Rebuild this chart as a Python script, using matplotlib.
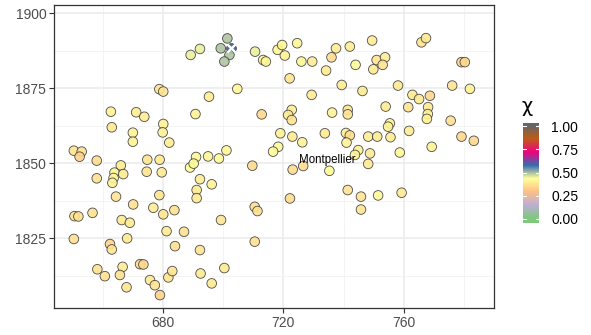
import numpy as np
import matplotlib
matplotlib.use("Agg")
import matplotlib.pyplot as plt
from matplotlib.colors import LinearSegmentedColormap

plt.rcParams['font.family'] = ['Liberation Sans', 'DejaVu Sans']

# sampled sites: longitude-like x, latitude-like y, chi value
x = [689.2, 692.3, 678.8, 680.1, 662.7, 671.1, 673.8, 663.0, 670.0, 670.0,
     680.1, 679.9, 682.1, 690.8, 650.4, 653.0, 652.3, 658.0, 674.8, 678.9,
     691.0, 695.0, 698.6, 701.1, 710.6, 713.3, 714.2, 718.1, 719.6, 720.5,
     724.6, 726.0, 729.6, 737.5, 736.0, 734.2, 722.1, 704.7, 695.3, 729.4,
     739.4, 712.8, 722.8, 721.6, 722.8, 736.2, 719.0, 723.0, 726.3, 733.8,
     740.8, 742.1, 741.0, 718.3, 716.6, 709.7, 723.1, 726.6, 735.3, 691.2,
     691.2, 692.3, 696.2, 689.0, 690.2, 742.1, 749.5, 744.0, 749.9, 751.0,
     753.8, 753.0, 765.9, 767.4, 779.2, 780.3, 746.3, 758.1, 762.9, 765.1,
     768.7, 776.1, 782.0, 741.4, 741.4, 754.0, 761.5, 768.1, 768.0, 767.7,
     775.6, 755.4, 754.8, 748.2, 751.2, 755.6, 761.8, 779.2, 783.3, 769.3,
     744.9, 743.8, 748.8, 748.2, 758.7, 741.4, 745.8, 751.5, 759.3, 745.8,
     722.2, 710.5, 711.4, 699.3, 710.5, 692.3, 692.5, 696.2, 700.4, 666.0,
     663.9, 666.8, 663.6, 663.2, 674.6, 679.6, 658.0, 650.6, 651.9, 656.6,
     664.4, 670.1, 666.3, 669.0, 676.8, 678.8, 680.1, 683.8, 650.4, 662.4,
     663.0, 668.1, 681.2, 687.0, 684.0, 658.2, 660.7, 666.6, 665.7, 667.9,
     672.4, 673.5, 675.7, 677.3, 679.0, 681.8, 683.1]
y = [1886.1, 1888.1, 1874.7, 1873.9, 1867.2, 1867.0, 1865.5, 1862.0, 1860.2, 1857.2,
     1863.1, 1860.3, 1856.9, 1866.4, 1854.2, 1853.9, 1852.2, 1850.9, 1851.2, 1851.2,
     1852.1, 1852.3, 1851.6, 1854.3, 1887.2, 1884.4, 1883.9, 1887.8, 1889.4, 1885.9,
     1890.0, 1883.9, 1883.9, 1888.3, 1885.3, 1880.9, 1878.3, 1874.8, 1872.2, 1872.8,
     1876.1, 1866.3, 1867.8, 1866.1, 1864.4, 1866.9, 1860.0, 1858.9, 1857.0, 1860.0,
     1860.1, 1859.3, 1856.9, 1855.5, 1853.9, 1849.2, 1847.9, 1849.1, 1847.5, 1841.1,
     1838.4, 1844.7, 1843.0, 1848.6, 1849.9, 1888.9, 1890.9, 1882.8, 1881.3, 1884.4,
     1885.3, 1882.8, 1890.3, 1891.7, 1883.7, 1883.7, 1874.1, 1875.9, 1872.8, 1871.4,
     1872.5, 1875.9, 1874.8, 1867.8, 1866.3, 1868.9, 1868.7, 1868.7, 1866.4, 1864.8,
     1864.2, 1863.3, 1862.2, 1858.9, 1858.9, 1858.7, 1860.8, 1858.9, 1857.5, 1855.5,
     1854.4, 1852.8, 1853.3, 1849.8, 1853.6, 1841.1, 1838.9, 1839.3, 1840.2, 1834.6,
     1838.3, 1835.5, 1834.1, 1831.1, 1823.9, 1821.1, 1813.3, 1810.0, 1815.1, 1849.3,
     1846.9, 1846.4, 1845.1, 1843.5, 1847.2, 1847.0, 1845.0, 1832.4, 1832.3, 1833.5,
     1838.9, 1836.3, 1831.1, 1830.2, 1835.2, 1839.4, 1833.0, 1834.4, 1824.8, 1823.1,
     1821.3, 1825.0, 1827.4, 1827.2, 1822.4, 1814.7, 1812.4, 1815.5, 1812.8, 1808.7,
     1816.4, 1816.3, 1811.1, 1809.4, 1806.1, 1812.0, 1814.1]
chi = [0.445, 0.445, 0.37, 0.37, 0.40, 0.39, 0.39, 0.38, 0.40, 0.40,
       0.40, 0.40, 0.39, 0.40, 0.37, 0.36, 0.33, 0.35, 0.37, 0.38,
       0.41, 0.41, 0.42, 0.41, 0.445, 0.41, 0.41, 0.41, 0.41, 0.40,
       0.41, 0.41, 0.39, 0.39, 0.35, 0.38, 0.37, 0.41, 0.39, 0.39,
       0.39, 0.34, 0.39, 0.38, 0.37, 0.40, 0.40, 0.38, 0.40, 0.38,
       0.39, 0.35, 0.40, 0.42, 0.42, 0.35, 0.35, 0.35, 0.42, 0.38,
       0.38, 0.39, 0.40, 0.43, 0.43, 0.39, 0.39, 0.43, 0.38, 0.37,
       0.39, 0.37, 0.37, 0.38, 0.33, 0.34, 0.38, 0.38, 0.38, 0.38,
       0.34, 0.37, 0.40, 0.37, 0.37, 0.38, 0.37, 0.38, 0.40, 0.40,
       0.36, 0.40, 0.40, 0.39, 0.38, 0.39, 0.39, 0.34, 0.34, 0.40,
       0.40, 0.40, 0.38, 0.38, 0.41, 0.37, 0.37, 0.42, 0.38, 0.37,
       0.35, 0.36, 0.36, 0.37, 0.36, 0.37, 0.38, 0.38, 0.38, 0.39,
       0.41, 0.38, 0.42, 0.40, 0.37, 0.38, 0.36, 0.36, 0.36, 0.36,
       0.37, 0.36, 0.38, 0.38, 0.39, 0.37, 0.37, 0.36, 0.36, 0.33,
       0.37, 0.38, 0.38, 0.36, 0.36, 0.36, 0.36, 0.39, 0.36, 0.37,
       0.35, 0.34, 0.38, 0.37, 0.33, 0.37, 0.37]

# the grey group near the marked site
grey_x = [701.4, 699.2, 702.1, 700.4]
grey_y = [1891.6, 1888.3, 1886.1, 1883.9]
grey_chi = [0.488, 0.488, 0.488, 0.488]

# marked site
mark_x, mark_y, mark_chi = 702.6, 1888.4, 0.56

city_name = "Montpellier"
city_x, city_y = 734.5, 1851.1

xticks = [680, 720, 760]
yticks = [1825, 1850, 1875, 1900]
cbar_ticks = [0.0, 0.25, 0.5, 0.75, 1.0]

accent = ['#7FC97F', '#BEAED4', '#FDC086', '#FFFF99',
          '#386CB0', '#F0027F', '#BF5B17', '#666666']
cmap = LinearSegmentedColormap.from_list('accent_grad', accent)

fig = plt.figure(figsize=(5.91, 3.35), dpi=100)
W, H = 591, 335
ax = fig.add_axes([54 / W, (H - 308) / H, 440 / W, 303.5 / H])

pt_size = 48
ax.scatter(x, y, c=chi, cmap=cmap, vmin=0, vmax=1, s=pt_size,
           edgecolors='#3a3a3a', linewidths=0.6, alpha=0.9, zorder=3)
ax.scatter([mark_x], [mark_y], c=[mark_chi], cmap=cmap, vmin=0, vmax=1,
           s=pt_size, edgecolors='#3a3a3a', linewidths=0.6, zorder=3)
ax.scatter(grey_x, grey_y, c=grey_chi, cmap=cmap, vmin=0, vmax=1, s=pt_size,
           edgecolors='#3a3a3a', linewidths=0.6, alpha=0.9, zorder=3)
ax.scatter([mark_x], [mark_y], marker='x', color='white', s=34,
           linewidths=1.7, zorder=5)
ax.text(city_x, city_y, city_name, fontsize=8.3, ha='center', va='center',
        color='black', zorder=6)

ax.set_xlim(643.8, 790.0)
ax.set_ylim(1801.8, 1902.9)
ax.set_xticks(xticks)
ax.set_yticks(yticks)
ax.set_xticks([660, 700, 740, 780], minor=True)
ax.set_yticks([1812.5, 1837.5, 1862.5, 1887.5], minor=True)
ax.grid(True, which='major', color='#EBEBEB', linewidth=1.1, zorder=0)
ax.grid(True, which='minor', color='#F2F2F2', linewidth=0.6, zorder=0)
ax.set_axisbelow(True)
ax.tick_params(which='major', length=3.5, width=0.8, color='#333333',
               labelsize=10, labelcolor='#4D4D4D', pad=2)
ax.tick_params(which='minor', length=0)
for sp in ax.spines.values():
    sp.set_color('#333333')
    sp.set_linewidth(0.9)

# colour bar
cax = fig.add_axes([523 / W, (H - 223.5) / H, 16 / W, 100.5 / H])
lo, hi = -0.05, 1.035
grad = np.linspace(lo, hi, 300).reshape(-1, 1)
cax.imshow(grad, cmap=cmap, vmin=0, vmax=1, aspect='auto', origin='lower',
           extent=[0, 1, lo, hi])
cax.set_xlim(0, 1)
cax.set_ylim(lo, hi)
for t in cbar_ticks:
    cax.plot([0, 0.2], [t, t], color='white', linewidth=0.8)
    cax.plot([0.8, 1], [t, t], color='white', linewidth=0.8)
cax.set_xticks([])
cax.yaxis.tick_right()
cax.set_yticks(cbar_ticks)
cax.set_yticklabels(['%.2f' % t for t in cbar_ticks])
cax.tick_params(length=0, labelsize=10, pad=9, labelcolor='black')
for sp in cax.spines.values():
    sp.set_visible(False)
fig.text(522 / W, (H - 106) / H, 'χ', fontsize=14, ha='left', va='center',
         family=['DejaVu Sans'])

fig.savefig('out.png', dpi=100)
